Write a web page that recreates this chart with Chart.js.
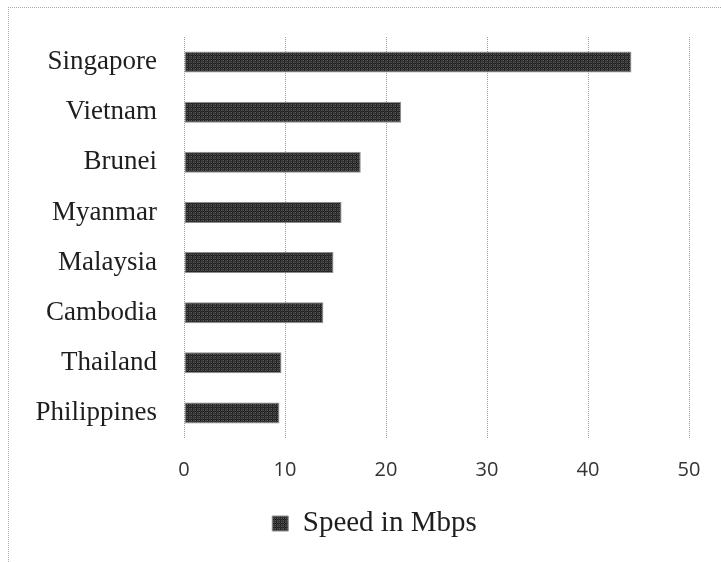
<!DOCTYPE html>
<html>
<head>
<meta charset="utf-8">
<script src="https://cdn.jsdelivr.net/npm/chart.js@4.4.1/dist/chart.umd.min.js"></script>
<style>
  html, body { margin: 0; padding: 0; background: #fff; }
  #wrap { position: relative; width: 721px; height: 562px; overflow: hidden; }
  #frame {
    position: absolute; left: 8px; top: 7px; width: 800px; height: 700px;
    border-top: 1px dotted #aaa; border-left: 1px dotted #aaa;
  }
  canvas { position: absolute; left: 0; top: 0; }
</style>
</head>
<body>
<div id="wrap">
  <div id="frame"></div>
  <canvas id="speedChart" width="721" height="562"></canvas>
</div>
<script>
// values
const countries = ['Singapore', 'Vietnam', 'Brunei', 'Myanmar', 'Malaysia', 'Cambodia', 'Thailand', 'Philippines'];
const speeds = [44.3, 21.5, 17.5, 15.6, 14.8, 13.8, 9.65, 9.45];
const seriesName = 'Speed in Mbps';
const xTicks = [0, 10, 20, 30, 40, 50];

// grainy dark fill like the original bars
function makeTexture() {
  const c = document.createElement('canvas');
  c.width = 4;
  c.height = 4;
  const g = c.getContext('2d');
  const shades = ['#1c1c1c', '#5c5c5c', '#333333', '#4a4a4a'];
  for (let y = 0; y < 4; y++) {
    for (let x = 0; x < 4; x++) {
      g.fillStyle = shades[(x * 3 + y * 2 + (x * y)) % 4];
      g.fillRect(x, y, 1, 1);
    }
  }
  return g.createPattern(c, 'repeat');
}

const ctx = document.getElementById('speedChart').getContext('2d');
const texture = makeTexture();

new Chart(ctx, {
  type: 'bar',
  data: {
    labels: countries,
    datasets: [{
      label: seriesName,
      data: speeds,
      backgroundColor: texture,
      borderColor: '#8c8c8c',
      borderWidth: 1,
      borderSkipped: false,
      barPercentage: 0.42,
      categoryPercentage: 1,
    }],
  },
  options: {
    indexAxis: 'y',
    responsive: false,
    animation: false,
    layout: {
      padding: { top: 37, right: 32, left: 60, bottom: 14 },
    },
    scales: {
      x: {
        min: 0,
        max: 50,
        afterBuildTicks: (scale) => {
          scale.ticks = xTicks.map(v => ({ value: v }));
        },
        afterFit: (scale) => { scale.height = 61; },
        grid: {
          color: '#9a9a9a',
          lineWidth: 1,
          drawTicks: false,
        },
        // in v4 the grid line dash comes from border.dash
        border: { display: false, dash: [1, 1] },
        ticks: {
          padding: 20,
          color: '#333',
          font: { family: 'Open Sans', size: 20 },
        },
      },
      y: {
        afterFit: (scale) => {
          scale.width = 124;
          scale.paddingTop = 0;
          scale.paddingBottom = 0;
          // let the long country names run past the scale box
          scale._computeLabelArea = () => undefined;
        },
        grid: { display: false, drawTicks: false },
        border: { display: false },
        ticks: {
          padding: 27,
          color: '#1e1e1e',
          font: { family: 'Liberation Serif', size: 27 },
        },
      },
    },
    plugins: {
      legend: {
        display: true,
        position: 'bottom',
        labels: {
          boxWidth: 16,
          boxHeight: 15,
          padding: 10,
          color: '#1e1e1e',
          font: { family: 'Liberation Serif', size: 29 },
        },
      },
      tooltip: { enabled: false },
    },
  },
});
</script>
</body>
</html>
